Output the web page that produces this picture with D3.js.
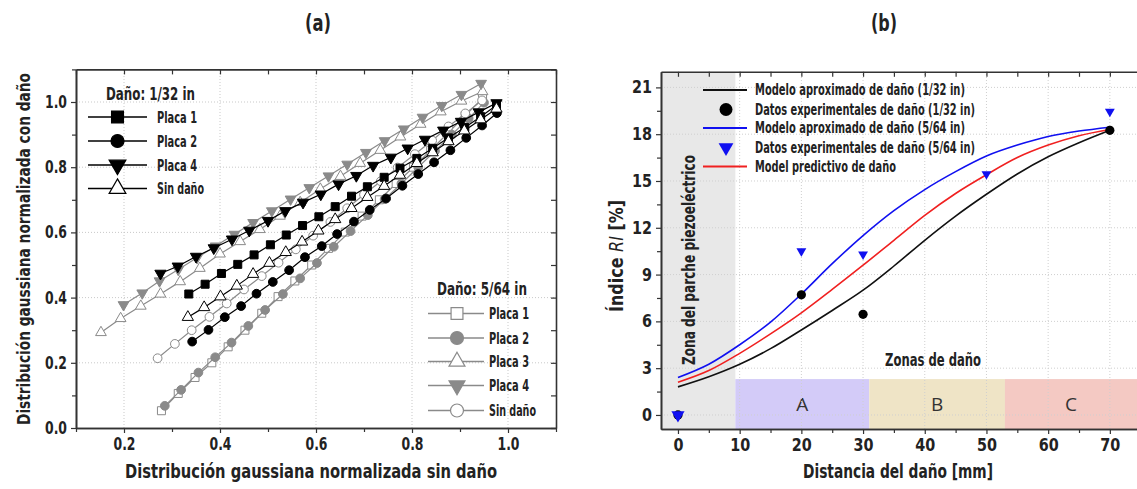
<!DOCTYPE html>
<html><head><meta charset="utf-8">
<script src="https://cdn.jsdelivr.net/npm/d3@7"></script>
<style>
body{margin:0;background:#fff;}
svg{display:block;}
text{font-family:"Liberation Sans Narrow","DejaVu Sans Condensed","Arial Narrow",sans-serif;}
</style></head><body>
<svg id="chart" width="1137" height="489"></svg>
<script>
// ---------- Panel (a) data ----------
const aXTicks = [0.2, 0.4, 0.6, 0.8, 1.0];
const aXMinor = [0.1, 0.3, 0.5, 0.7, 0.9, 1.1];
const aYTicks = [0.0, 0.2, 0.4, 0.6, 0.8, 1.0];
const aYMinor = [0.1, 0.3, 0.5, 0.7, 0.9, 1.1];

// Daño 1/32 in
const d132_placa1_x = [0.335,0.369,0.403,0.437,0.471,0.505,0.538,0.572,0.606,0.640,0.674,0.707,0.742,0.775,0.810,0.843,0.876,0.910,0.943,0.976];
const d132_placa1_y = [0.411,0.441,0.474,0.502,0.531,0.562,0.592,0.621,0.648,0.679,0.711,0.740,0.769,0.797,0.827,0.858,0.890,0.922,0.955,0.990];
const d132_placa2_x = [0.342,0.376,0.410,0.444,0.476,0.510,0.544,0.577,0.612,0.644,0.679,0.712,0.746,0.780,0.813,0.846,0.880,0.913,0.946,0.977];
const d132_placa2_y = [0.265,0.301,0.340,0.374,0.412,0.448,0.484,0.524,0.558,0.595,0.633,0.669,0.704,0.743,0.779,0.815,0.852,0.890,0.928,0.966];
const d132_placa4_x = [0.276,0.312,0.350,0.387,0.425,0.461,0.500,0.536,0.573,0.610,0.647,0.684,0.719,0.756,0.791,0.827,0.865,0.902,0.939,0.976];
const d132_placa4_y = [0.474,0.496,0.526,0.552,0.579,0.606,0.636,0.666,0.692,0.717,0.748,0.774,0.805,0.830,0.858,0.885,0.913,0.940,0.969,0.997];
const d132_sin_x    = [0.333,0.367,0.401,0.435,0.469,0.503,0.537,0.571,0.605,0.640,0.674,0.707,0.742,0.775,0.810,0.843,0.876,0.909,0.943,0.976];
const d132_sin_y    = [0.340,0.370,0.403,0.436,0.472,0.506,0.539,0.571,0.605,0.640,0.674,0.708,0.742,0.776,0.812,0.845,0.879,0.912,0.946,0.979];

// Daño 5/64 in
const d564_placa1_x = [0.278,0.313,0.348,0.383,0.417,0.452,0.487,0.521,0.556,0.591,0.626,0.661,0.696,0.732,0.767,0.803,0.839,0.875,0.911,0.947];
const d564_placa1_y = [0.053,0.106,0.155,0.200,0.249,0.300,0.352,0.403,0.451,0.500,0.551,0.601,0.650,0.700,0.750,0.800,0.852,0.905,0.958,1.012];
const d564_placa2_x = [0.285,0.319,0.355,0.390,0.424,0.459,0.494,0.531,0.567,0.602,0.637,0.672,0.708,0.743,0.778,0.813,0.848,0.883,0.918,0.950];
const d564_placa2_y = [0.068,0.117,0.170,0.217,0.262,0.313,0.362,0.411,0.459,0.506,0.556,0.604,0.653,0.702,0.750,0.800,0.850,0.900,0.950,0.998];
const d564_placa3_x = [0.152,0.193,0.235,0.276,0.317,0.358,0.400,0.442,0.483,0.525,0.567,0.609,0.651,0.692,0.734,0.776,0.818,0.860,0.903,0.947];
const d564_placa3_y = [0.293,0.336,0.374,0.411,0.449,0.490,0.534,0.572,0.609,0.650,0.692,0.733,0.772,0.812,0.852,0.893,0.932,0.970,1.003,1.032];
const d564_placa4_x = [0.199,0.238,0.274,0.313,0.352,0.391,0.430,0.469,0.508,0.547,0.586,0.626,0.665,0.704,0.743,0.783,0.822,0.862,0.903,0.944];
const d564_placa4_y = [0.378,0.414,0.451,0.486,0.522,0.558,0.594,0.630,0.666,0.702,0.737,0.773,0.809,0.845,0.881,0.917,0.953,0.989,1.023,1.057];
const d564_sin_x    = [0.270,0.306,0.341,0.378,0.414,0.450,0.487,0.522,0.558,0.594,0.630,0.665,0.700,0.735,0.770,0.806,0.842,0.876,0.911,0.946];
const d564_sin_y    = [0.214,0.258,0.300,0.341,0.382,0.425,0.466,0.507,0.548,0.590,0.632,0.674,0.716,0.757,0.799,0.840,0.882,0.925,0.965,1.005];

// ---------- Panel (b) data ----------
const bXTicks = [0, 10, 20, 30, 40, 50, 60, 70];
const bXMinor = [5, 15, 25, 35, 45, 55, 65];
const bYTicks = [0, 3, 6, 9, 12, 15, 18, 21];
const bYMinor = [1.5, 4.5, 7.5, 10.5, 13.5, 16.5, 19.5];

const modelX        = [0, 5, 10, 15, 20, 25, 30, 35, 40, 45, 50, 55, 60, 65, 70];
const model132      = [1.8, 2.45, 3.25, 4.25, 5.45, 6.7, 8.0, 9.55, 11.2, 12.75, 14.15, 15.45, 16.55, 17.45, 18.25];
const model564      = [2.4, 3.25, 4.5, 5.95, 7.75, 9.7, 11.5, 13.1, 14.45, 15.6, 16.6, 17.3, 17.85, 18.2, 18.45];
const modelPred     = [2.1, 2.85, 3.95, 5.2, 6.55, 8.05, 9.6, 11.2, 12.8, 14.2, 15.4, 16.5, 17.3, 17.9, 18.3];

const exp132_x = [0, 20, 30, 70];
const exp132_y = [0, 7.7, 6.45, 18.25];
const exp564_x = [0, 20, 30, 50, 70];
const exp564_y = [0, 10.5, 10.3, 15.45, 19.45];

const zoneNames = ["A", "B", "C"];
const zoneStart = [9.3, 31, 53];
const zoneEnd   = [31, 53, 74.4];
const zoneTop   = 2.3;
const piezoEnd  = 9.3;

const legendB = ["Modelo aproximado de daño (1/32 in)", "Datos experimentales de daño (1/32 in)",
                 "Modelo aproximado de daño (5/64 in)", "Datos experimentales de daño (5/64 in)",
                 "Model predictivo de daño"];
const legendBWidth = [210, 220, 210, 220, 141];

// ---------- drawing ----------
const svg = d3.select("#chart");
const zip = (xs, ys) => xs.map((x, i) => [x, ys[i]]);
const fit = (sel, len) => sel.attr("textLength", len).attr("lengthAdjust", "spacingAndGlyphs");

fit(svg.append("text").attr("x", 318).attr("y", 23).attr("text-anchor", "middle")
  .attr("dominant-baseline", "central").style("font-size", "23px").style("font-weight", "bold").attr("fill", "#222").text("(a)"), 26);
fit(svg.append("text").attr("x", 884).attr("y", 23).attr("text-anchor", "middle")
  .attr("dominant-baseline", "central").style("font-size", "23px").style("font-weight", "bold").attr("fill", "#222").text("(b)"), 26);

// ===== Panel A =====
const xa = d3.scaleLinear().domain([0.1, 1.1]).range([76, 556]);
const ya = d3.scaleLinear().domain([0, 1.1]).range([428, 69.4]);
const gA = svg.append("g");

gA.selectAll(".gx").data(aXTicks).join("line")
  .attr("x1", d => xa(d)).attr("x2", d => xa(d)).attr("y1", ya(0)).attr("y2", ya(1.1))
  .attr("stroke", "#c9c9c9").attr("stroke-width", 1).attr("stroke-dasharray", "1,2");
gA.selectAll(".gy").data(aYTicks.slice(1)).join("line")
  .attr("y1", d => ya(d)).attr("y2", d => ya(d)).attr("x1", xa(0.1)).attr("x2", xa(1.1))
  .attr("stroke", "#c9c9c9").attr("stroke-width", 1).attr("stroke-dasharray", "1,2");

const GREY = "#8a8a8a";
const seriesA = [
  {x: d564_placa1_x, y: d564_placa1_y, col: GREY, sym: d3.symbolSquare, size: 64, fill: "#fff", rot: 0, name: "Placa 1"},
  {x: d564_placa2_x, y: d564_placa2_y, col: GREY, sym: d3.symbolCircle, size: 60, fill: GREY, rot: 0, name: "Placa 2"},
  {x: d564_placa3_x, y: d564_placa3_y, col: GREY, sym: d3.symbolTriangle, size: 50, fill: "#fff", rot: 0, name: "Placa 3"},
  {x: d564_placa4_x, y: d564_placa4_y, col: GREY, sym: d3.symbolTriangle, size: 50, fill: GREY, rot: 180, name: "Placa 4"},
  {x: d564_sin_x, y: d564_sin_y, col: GREY, sym: d3.symbolCircle, size: 60, fill: "#fff", rot: 0, name: "Sin daño"},
  {x: d132_placa1_x, y: d132_placa1_y, col: "#000", sym: d3.symbolSquare, size: 64, fill: "#000", rot: 0, name: "Placa 1"},
  {x: d132_placa2_x, y: d132_placa2_y, col: "#000", sym: d3.symbolCircle, size: 60, fill: "#000", rot: 0, name: "Placa 2"},
  {x: d132_placa4_x, y: d132_placa4_y, col: "#000", sym: d3.symbolTriangle, size: 55, fill: "#000", rot: 180, name: "Placa 4"},
  {x: d132_sin_x, y: d132_sin_y, col: "#000", sym: d3.symbolTriangle, size: 55, fill: "#fff", rot: 0, name: "Sin daño"}
];
const lineA = d3.line().x(d => xa(d[0])).y(d => ya(d[1]));
seriesA.forEach(s => {
  const pts = zip(s.x, s.y);
  const g = gA.append("g");
  g.append("path").attr("d", lineA(pts)).attr("fill", "none").attr("stroke", s.col).attr("stroke-width", 1.2);
  g.selectAll("path.m").data(pts).join("path").attr("class", "m")
    .attr("d", d3.symbol().type(s.sym).size(s.size))
    .attr("transform", d => `translate(${xa(d[0])},${ya(d[1])}) rotate(${s.rot})`)
    .attr("fill", s.fill).attr("stroke", s.col).attr("stroke-width", 1);
});

function styleAxis(g, fs) {
  g.selectAll(".domain").attr("stroke", "#333").attr("stroke-width", 1.6);
  g.selectAll(".tick line").attr("stroke", "#333").attr("stroke-width", 1.2);
  g.selectAll("text").style("font-size", fs + "px").style("font-weight", "bold").attr("fill", "#222");
}
const fmt1 = d3.format(".1f");
gA.append("g").attr("transform", `translate(0,${ya(0)})`)
  .call(d3.axisBottom(xa).tickValues(aXTicks).tickSize(5).tickSizeOuter(0).tickPadding(5).tickFormat(fmt1)).call(g => styleAxis(g, 17))
  .selectAll("text").attr("textLength", 22).attr("lengthAdjust", "spacingAndGlyphs");
gA.append("g").attr("transform", `translate(0,${ya(0)})`)
  .call(d3.axisBottom(xa).tickValues(aXMinor).tickSize(4).tickSizeOuter(0).tickFormat("")).call(g => styleAxis(g, 17));
gA.append("g").attr("transform", `translate(0,${ya(1.1)})`)
  .call(d3.axisTop(xa).tickValues(aXTicks.concat(aXMinor)).tickSize(-5).tickSizeOuter(0).tickFormat("")).call(g => styleAxis(g, 17));
gA.append("g").attr("transform", `translate(${xa(0.1)},0)`)
  .call(d3.axisLeft(ya).tickValues(aYTicks).tickSize(5).tickSizeOuter(0).tickPadding(4).tickFormat(fmt1)).call(g => styleAxis(g, 17))
  .selectAll("text").attr("textLength", 22).attr("lengthAdjust", "spacingAndGlyphs");
gA.append("g").attr("transform", `translate(${xa(0.1)},0)`)
  .call(d3.axisLeft(ya).tickValues(aYMinor).tickSize(4).tickSizeOuter(0).tickFormat("")).call(g => styleAxis(g, 17));
gA.append("g").attr("transform", `translate(${xa(1.1)},0)`)
  .call(d3.axisRight(ya).tickValues(aYTicks.concat(aYMinor)).tickSize(-5).tickSizeOuter(0).tickFormat("")).call(g => styleAxis(g, 17));

fit(gA.append("text").attr("x", 311).attr("y", 471).attr("text-anchor", "middle").attr("dominant-baseline", "central")
  .style("font-size", "19px").style("font-weight", "bold").attr("fill", "#222").text("Distribución gaussiana normalizada sin daño"), 372);
fit(gA.append("text").attr("transform", "translate(23,249) rotate(-90)").attr("text-anchor", "middle").attr("dominant-baseline", "central")
  .style("font-size", "18px").style("font-weight", "bold").attr("fill", "#222").text("Distribución gaussiana normalizada con daño"), 352);

function legendA(title, titleW, tx, ty, items, rows, lx1, lx2, mx, textX, scale) {
  fit(gA.append("text").attr("x", tx).attr("y", ty).attr("dominant-baseline", "central")
    .style("font-size", "17px").style("font-weight", "bold").attr("fill", "#222").text(title), titleW);
  items.forEach((s, i) => {
    const yy = rows[i];
    gA.append("line").attr("x1", lx1).attr("x2", lx2).attr("y1", yy).attr("y2", yy).attr("stroke", s.col).attr("stroke-width", 1.3);
    gA.append("path").attr("d", d3.symbol().type(s.sym).size(s.size * scale))
      .attr("transform", `translate(${mx},${yy}) rotate(${s.rot})`)
      .attr("fill", s.fill).attr("stroke", s.col).attr("stroke-width", 1.2);
    fit(gA.append("text").attr("x", textX).attr("y", yy).attr("dominant-baseline", "central")
      .style("font-size", "16px").style("font-weight", "bold").attr("fill", "#222").text(s.name), s.name.length > 7 ? 47 : 40);
  });
}
legendA("Daño: 1/32 in", 89, 106, 94, seriesA.slice(5), [117, 141, 165, 188.5], 88, 147, 117.5, 157, 2.2);
legendA("Daño: 5/64 in", 90, 437, 288.5, seriesA.slice(0, 5), [313.5, 338, 361.5, 385.5, 410.5], 428, 484, 457, 489, 2.2);

// ===== Panel B =====
const xb = d3.scaleLinear().domain([-2.75, 74.4]).range([661, 1137]);
const yb = d3.scaleLinear().domain([-0.9, 22]).range([429, 71.8]);
const gB = svg.append("g");

gB.append("rect").attr("x", xb(-2.75)).attr("y", yb(22)).attr("width", xb(piezoEnd) - xb(-2.75)).attr("height", yb(-0.9) - yb(22))
  .attr("fill", "#e8e8e8");
const zoneColors = ["#d3cbf8", "#efe4c6", "#f4c9c3"];
zoneNames.forEach((n, i) => {
  gB.append("rect").attr("x", xb(zoneStart[i])).attr("y", yb(zoneTop))
    .attr("width", xb(zoneEnd[i]) - xb(zoneStart[i])).attr("height", yb(-0.9) - yb(zoneTop)).attr("fill", zoneColors[i]);
  gB.append("text").attr("x", (xb(zoneStart[i]) + xb(zoneEnd[i])) / 2).attr("y", yb(0.72))
    .attr("text-anchor", "middle").attr("dominant-baseline", "central")
    .style("font-family", "'Open Sans','Noto Sans',sans-serif").style("font-size", "19px").attr("fill", "#333").text(n);
});
gB.selectAll(".gx").data(bXTicks.slice(1)).join("line")
  .attr("x1", d => xb(d)).attr("x2", d => xb(d)).attr("y1", yb(-0.9)).attr("y2", yb(22))
  .attr("stroke", "#cfcfcf").attr("stroke-width", 1).attr("stroke-dasharray", "1,2");
gB.selectAll(".gy").data(bYTicks).join("line")
  .attr("y1", d => yb(d)).attr("y2", d => yb(d)).attr("x1", xb(-2.75)).attr("x2", xb(74.4))
  .attr("stroke", "#cfcfcf").attr("stroke-width", 1).attr("stroke-dasharray", "1,2");

fit(gB.append("text").attr("transform", `translate(${689},${260}) rotate(-90)`).attr("text-anchor", "middle").attr("dominant-baseline", "central")
  .style("font-size", "17px").style("font-weight", "bold").attr("fill", "#222").text("Zona del parche piezoeléctrico"), 210);
fit(gB.append("text").attr("x", 933).attr("y", 360).attr("text-anchor", "middle").attr("dominant-baseline", "central")
  .style("font-size", "17px").style("font-weight", "bold").attr("fill", "#222").text("Zonas de daño"), 96);

const lineB = d3.line().curve(d3.curveMonotoneX).x(d => xb(d[0])).y(d => yb(d[1]));
const BLUE = "#1010f0", RED = "#f02020", BLK = "#111";
gB.append("path").attr("d", lineB(zip(modelX, model132))).attr("fill", "none").attr("stroke", BLK).attr("stroke-width", 1.6);
gB.append("path").attr("d", lineB(zip(modelX, modelPred))).attr("fill", "none").attr("stroke", RED).attr("stroke-width", 1.6);
gB.append("path").attr("d", lineB(zip(modelX, model564))).attr("fill", "none").attr("stroke", BLUE).attr("stroke-width", 1.6);

gB.selectAll(".c132").data(zip(exp132_x, exp132_y)).join("circle")
  .attr("cx", d => xb(d[0])).attr("cy", d => yb(d[1])).attr("r", 4.6).attr("fill", "#000");
gB.selectAll(".t564").data(zip(exp564_x, exp564_y)).join("path")
  .attr("d", (d, i) => d3.symbol().type(d3.symbolTriangle).size(i === 0 ? 75 : 42)())
  .attr("transform", d => `translate(${xb(d[0])},${yb(d[1])}) rotate(180)`).attr("fill", BLUE);

const lbRows = [90, 109.5, 128, 147.5, 166.5];
legendB.forEach((t, i) => {
  const yy = lbRows[i];
  if (i === 0 || i === 2 || i === 4) {
    gB.append("line").attr("x1", 703).attr("x2", 747).attr("y1", yy).attr("y2", yy)
      .attr("stroke", i === 0 ? BLK : (i === 2 ? BLUE : RED)).attr("stroke-width", 1.8);
  } else if (i === 1) {
    gB.append("circle").attr("cx", 726).attr("cy", yy).attr("r", 6.5).attr("fill", "#000");
  } else {
    gB.append("path").attr("d", d3.symbol().type(d3.symbolTriangle).size(95))
      .attr("transform", `translate(726,${yy}) rotate(180)`).attr("fill", BLUE);
  }
  fit(gB.append("text").attr("x", 755).attr("y", yy).attr("dominant-baseline", "central")
    .style("font-size", "15px").style("font-weight", "bold").attr("fill", "#222").text(t), legendBWidth[i]);
});

gB.append("g").attr("transform", `translate(0,${yb(-0.9)})`)
  .call(d3.axisBottom(xb).tickValues(bXTicks).tickSize(5).tickSizeOuter(0).tickPadding(5).tickFormat(d3.format("d"))).call(g => styleAxis(g, 17))
  .selectAll("text").each(function(d) { d3.select(this).attr("textLength", d < 10 ? 10 : 20).attr("lengthAdjust", "spacingAndGlyphs"); });
gB.append("g").attr("transform", `translate(0,${yb(-0.9)})`)
  .call(d3.axisBottom(xb).tickValues(bXMinor).tickSize(4).tickSizeOuter(0).tickFormat("")).call(g => styleAxis(g, 17));
gB.append("g").attr("transform", `translate(0,${yb(22)})`)
  .call(d3.axisTop(xb).tickValues(bXTicks.concat(bXMinor)).tickSize(-5).tickSizeOuter(0).tickFormat("")).call(g => styleAxis(g, 17));
gB.append("g").attr("transform", `translate(${xb(-2.75)},0)`)
  .call(d3.axisLeft(yb).tickValues(bYTicks).tickSize(5).tickSizeOuter(0).tickPadding(4).tickFormat(d3.format("d"))).call(g => styleAxis(g, 17))
  .selectAll("text").each(function(d) { d3.select(this).attr("textLength", d < 10 ? 10 : 20).attr("lengthAdjust", "spacingAndGlyphs"); });
gB.append("g").attr("transform", `translate(${xb(-2.75)},0)`)
  .call(d3.axisLeft(yb).tickValues(bYMinor).tickSize(4).tickSizeOuter(0).tickFormat("")).call(g => styleAxis(g, 17));

fit(gB.append("text").attr("x", 898).attr("y", 471).attr("text-anchor", "middle").attr("dominant-baseline", "central")
  .style("font-size", "19px").style("font-weight", "bold").attr("fill", "#222").text("Distancia del daño [mm]"), 190);
const yl = gB.append("text").attr("transform", "translate(616,256) rotate(-90)").attr("text-anchor", "middle").attr("dominant-baseline", "central")
  .style("font-size", "19px").style("font-weight", "bold").attr("fill", "#222");
yl.append("tspan").text("Índice ");
yl.append("tspan").style("font-style", "italic").style("font-weight", "normal").text("RI");
yl.append("tspan").text("  [%]");
fit(yl, 112);
</script>
</body></html>
